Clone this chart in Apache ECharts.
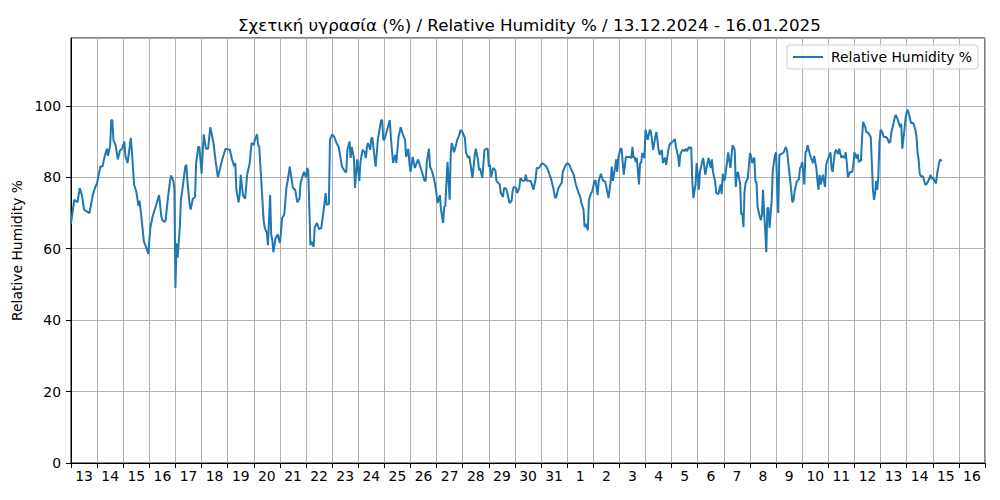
<!DOCTYPE html>
<html><head><meta charset="utf-8">
<script src="https://cdn.jsdelivr.net/npm/echarts@6/dist/echarts.min.js"></script>
<style>html,body{margin:0;padding:0;background:#fff}#c{width:1000px;height:500px}</style>
</head><body><div id="c"></div><script>
// Day labels (13 Dec 2024 .. 16 Jan 2025), one per day, shown at noon
const dayLabels = ['13','14','15','16','17','18','19','20','21','22','23','24','25','26','27','28','29','30','31',
  '1','2','3','4','5','6','7','8','9','10','11','12','13','14','15','16'];
// Hours since 13.12.2024 00:00
const hours = [
 0,3,6,8,10,12,14,17,20,22,
 24,25,27,29,31,33,34,36,37,38,39,41,43,45,47,
 49,50,52,55,56,58,60,62,63,65,67,69,71,
 73,75,77,79,81,83,84,86,87,89,91,92,94,95,
 96,97,98,100,101,103,105,106,107,109,110,112,114,115,117,118,
 120,122,124,126,128,131,133,135,139,142,
 146,148,150,151,152,154,155,156,158,160,162,164,166,
 168,169,171,172,173,175,177,178,180,181,183,184,185,186,188,190,
 192,193,194,196,198,200,201,203,204,206,208,210,211,214,
 216,217,218,219,220,221,223,224,226,228,230,231,233,234,235,237,238,
 240,242,244,246,248,249,252,253,254,256,257,258,260,261,263,
 265,266,268,270,271,272,273,275,276,277,279,280,282,285,286,287,
 288,290,293,294,296,298,299,301,303,305,307,308,310,311,
 312,314,316,319,321,323,325,326,327,329,330,332,334,335,
 337,339,340,342,343,344,346,348,349,350,352,353,355,357,358,
 360,362,363,365,366,367,369,371,372,374,375,376,378,380,382,383,
 384,385,386,388,390,391,394,395,397,398,400,401,403,405,406,407,
 409,410,412,413,415,417,418,419,422,423,425,427,428,430,431,
 433,435,437,439,440,441,443,445,446,448,450,451,452,454,
 456,458,460,462,464,466,468,469,471,472,473,475,476,478,479,
 481,482,484,485,487,489,491,492,494,496,497,498,500,501,502,503,
 505,506,508,510,511,513,515,516,517,518,519,520,522,523,524,525,527,
 528,530,532,533,535,537,538,540,541,543,544,546,547,549,550,
 551,553,555,556,558,559,560,562,564,565,566,568,569,570,571,572,574,575,
 576,577,578,580,581,583,584,586,588,589,590,592,593,595,597,598,599,
 600,601,602,604,606,608,610,611,612,613,615,616,617,618,619,620,622,
 624,625,626,628,629,630,631,633,634,635,636,637,638,639,640,641,642,644,645,647,
 648,649,650,651,653,655,657,658,660,662,663,664,665,667,669,670,671,
 672,674,675,676,677,679,680,682,683,685,686,687,688,689,691,693,694,
 696,698,699,700,702,703,705,706,708,709,711,712,713,714,716,718,719,
 720,722,723,724,726,727,728,730,731,733,735,736,737,738,739,740,741,742,743,
 744,745,747,749,750,752,753,754,756,757,758,760,762,763,764,766,767,
 768,769,771,772,774,776,777,778,779,780,781,783,785,786,788,790,791,
 792,794,795,796,798,799,800
];
// Relative humidity %
const humidity = [
 67,73.7,73,77,75,71,70.5,70,75,77,
 78.4,80,83,83,86,88,86,89,96,96,90.5,89,85,87.5,88,
 90,86,84,91,87,78,76,72,73.5,68,62,60.5,58.5,
 66,69,71,73,75,69,68,67.5,68,74,79,80.5,79,77,
 49,61.5,57.5,66,73.5,78,83,83.5,79,72.5,71,74,74.5,84,88.5,88.5,
 81,92,88,88,94,89.5,84.3,80,85,88,
 87.7,85,83,84,76.5,73,75,80.7,75,74,81,83.5,89.6,
 89,90.5,92,89,88.5,78.4,68,66,64.4,61,75,64,62.5,59,63,64,
 61.6,64.7,68.6,69.5,77,80.7,83,79,77,76.5,73,74,78.4,81.5,
 80,82.6,82,72,61,62,60.5,66,67.2,65.5,65.8,68,72.8,75.6,72.3,72.5,90.5,
 92,91.3,89.6,88.5,85,83,81.5,81.5,87.7,90,85.4,88.5,85.4,77,85,
 79,84.3,87.7,87,85.4,88.5,89.6,87.7,91,91,85.4,83,90.5,96,96,90.5,
 90.5,92.7,96,91,84,86.3,84,91.3,94,92,90.5,85.7,88,84,
 81.5,85.7,82.6,85,83,81,79,79,84.3,88,83,81.5,79,77.3,
 72.8,75,71,67.2,71.7,72,84.3,73.7,86.8,89.6,87,88,90.5,92,93.3,
 92.5,91,87,85.4,86,84,79.8,86,88,85,82,82.5,79.8,87.7,88,88,
 83,83.5,80,82.6,82,79,78,75.6,74.5,77,76.8,75.6,72.8,73.5,76.5,77.3,
 77,75.6,77,79.8,79,79,80.7,79,79,78.5,76.5,79.5,82.6,82.6,83,
 84,83.5,83,81.5,80.5,79.8,77.3,74.2,74.5,77,78,78.5,81.5,83,
 84,83.5,82,80.7,78,76,74.5,72.8,71,66,67,65.2,73.7,75.6,76,
 78.8,79.2,75,79,81,79,78.8,77.3,74.2,79,83,79,82.6,85,81.5,85.5,
 88,88,80.7,85.7,85.7,85.7,85.4,88.5,85.4,85.7,84.3,85.4,78,84,84,86.8,85.4,
 93.3,90.5,93.3,92.7,87.7,91.3,92.7,87.7,86.3,87.7,84,85.5,83.5,87.7,89,
 89.5,90,90.7,88.5,85.7,83,86.5,87.7,87.3,88,87.3,88.5,88,88.5,79,74.2,78,84,
 80.7,76.5,81.5,84.3,85.4,80.7,82.5,85.4,82.6,85,81.5,78.8,75.6,75.3,78,75.3,81,
 79,79.5,82,87,82.6,89,87.7,77.3,81,81.5,78,69.5,70,66,76,78.4,79.8,
 86.8,86,84,85.5,79,78.5,71.7,69,68,69.5,76.5,70,65.2,59,71.4,71.4,65.8,73.7,82,86.3,
 87,77.3,70,86.3,86.5,87,88.5,87.5,82,76,73,73.5,76,78.8,79.5,82.6,83,
 84.3,78,87,87.3,89,86.5,85.5,84,86,82.6,79,76.5,80.7,78,80.7,77.3,83.5,
 85.4,87,82.5,81.5,87,87.7,86.5,88,85.5,86,85.4,87,84,80,81.5,81.5,83.5,
 87,85.3,86.5,84.3,84.7,91,95.5,94,92.7,92.3,91.3,84,76.5,73.7,75.5,79,76.5,80.5,89.6,
 93.3,93,91.3,91.3,91,89.6,90,92.7,95.2,96.6,97.5,96,94,95,88,93.5,96.5,
 98.3,98.9,96.5,95.2,95.2,93.3,91.5,87,85,81,80.3,80.3,78,78,79,80.7,79.5,
 80,78.8,78.3,81,84.3,85,84.5
];
const titleText = 'Σχετική υγρασία (%) / Relative Humidity % / 13.12.2024 - 16.01.2025';
const seriesName = 'Relative Humidity %';
const yName = 'Relative Humidity %';

const n = Math.min(hours.length, humidity.length);
const data = [];
for (let i = 0; i < n; i++) data.push([hours[i], humidity[i]]);

const FONT = '"DejaVu Sans", sans-serif';
const chart = echarts.init(document.getElementById('c'), null, {renderer: 'svg'});
chart.setOption({
  animation: false,
  backgroundColor: '#ffffff',
  title: {
    text: titleText, left: 238, top: 16, padding: 0,
    textStyle: {fontFamily: FONT, fontSize: 16.7, fontWeight: 'normal', color: '#000'}
  },
  legend: {
    right: 22, top: 45, padding: [4, 6, 4, 6],
    itemWidth: 30, itemHeight: 2, icon: 'rect',
    backgroundColor: 'rgba(255,255,255,0.8)', borderColor: '#cccccc', borderWidth: 1, borderRadius: 3,
    textStyle: {fontFamily: FONT, fontSize: 13.9, color: '#000', padding: [0, 0, 0, 3], lineHeight: 16},
    data: [seriesName]
  },
  grid: {left: 71, right: 15, top: 38, bottom: 37, show: true, borderColor: '#000', borderWidth: 1, containLabel: false},
  xAxis: [{
    type: 'value', min: 0, max: 840, interval: 24,
    axisLine: {show: true, lineStyle: {color: '#000', width: 1}},
    axisTick: {show: true, length: 5, lineStyle: {color: '#000'}},
    axisLabel: {show: false},
    splitLine: {show: true, lineStyle: {color: '#b0b0b0', width: 1}}
  }, {
    type: 'category', data: dayLabels, position: 'bottom', boundaryGap: true,
    axisLine: {show: false}, axisTick: {show: false},
    axisLabel: {interval: 0, fontFamily: FONT, fontSize: 13.9, color: '#000', margin: 6},
    splitLine: {show: false}
  }],
  yAxis: {
    type: 'value', min: 0, max: 119, interval: 20,
    name: yName, nameLocation: 'middle', nameGap: 36,
    nameTextStyle: {fontFamily: FONT, fontSize: 13.9, color: '#000'},
    axisLine: {show: true, lineStyle: {color: '#000', width: 1}},
    axisTick: {show: true, length: 5, lineStyle: {color: '#000'}},
    axisLabel: {fontFamily: FONT, fontSize: 13.9, color: '#000', margin: 10, showMaxLabel: false},
    splitLine: {show: true, lineStyle: {color: '#b0b0b0', width: 1}}
  },
  series: [{
    type: 'line', name: seriesName, data: data, xAxisIndex: 0,
    symbol: 'none', showSymbol: false,
    lineStyle: {color: '#1f77b4', width: 2}, itemStyle: {color: '#1f77b4'}
  }]
});
</script></body></html>
